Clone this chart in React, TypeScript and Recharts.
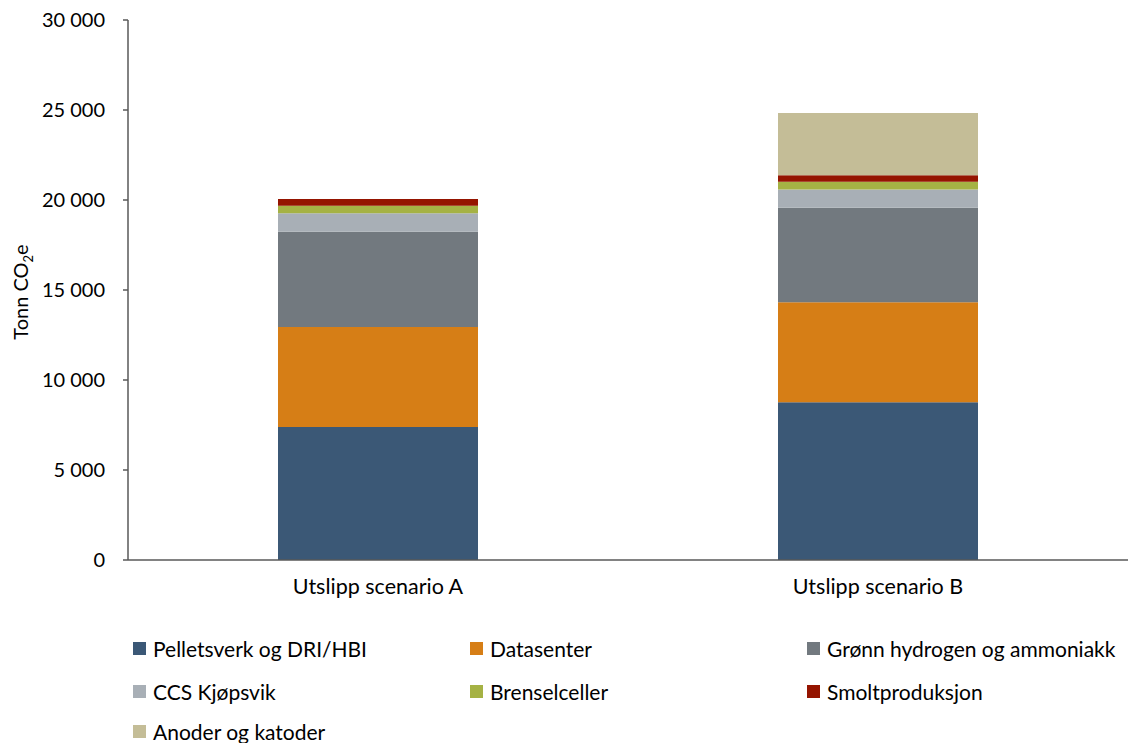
import {
  BarChart,
  Bar,
  XAxis,
  YAxis,
  Legend,
} from "recharts";

const CATEGORIES = ["Utslipp scenario A", "Utslipp scenario B"];

const PELLETS = [7390, 8760];
const DATASENTER = [5555, 5555];
const GRONN = [5295, 5255];
const CCS = [1020, 1020];
const BRENSEL = [425, 425];
const SMOLT = [370, 355];
const ANODER = [0, 3460];

const Y_TICKS = [0, 5000, 10000, 15000, 20000, 25000, 30000];

const SERIES = [
  { key: "pellets", name: "Pelletsverk og DRI/HBI", color: "#3B5876", values: PELLETS },
  { key: "data", name: "Datasenter", color: "#D67E16", values: DATASENTER },
  { key: "gronn", name: "Grønn hydrogen og ammoniakk", color: "#72797F", values: GRONN },
  { key: "ccs", name: "CCS Kjøpsvik", color: "#A8AFB6", values: CCS },
  { key: "brensel", name: "Brenselceller", color: "#A5B244", values: BRENSEL },
  { key: "smolt", name: "Smoltproduksjon", color: "#951400", values: SMOLT },
  { key: "anoder", name: "Anoder og katoder", color: "#C4BD97", values: ANODER },
];

const data = CATEGORIES.map((cat, i) => {
  const row: Record<string, any> = { name: cat };
  SERIES.forEach((s) => (row[s.key] = s.values[i]));
  return row;
});

const FONT = "Lato, 'Noto Sans', sans-serif";
const AXIS = "#595959";

// thousands with a space, Norwegian style
const fmt = (v: number) =>
  v >= 1000 ? `${Math.floor(v / 1000)} ${String(v % 1000).padStart(3, "0")}` : String(v);

const LegendBox = () => {
  const cols = [133, 470, 807];
  const rows = [28, 71, 111];
  return (
    <div style={{ position: "relative", width: 1138, height: 123, fontFamily: FONT, fontSize: 21, color: "#000" }}>
      {SERIES.map((s, i) => (
        <div
          key={s.key}
          style={{
            position: "absolute",
            left: cols[i % 3],
            top: rows[Math.floor(i / 3)] - 14,
            height: 28,
            display: "flex",
            alignItems: "center",
            whiteSpace: "nowrap",
          }}
        >
          <span style={{ width: 13, height: 13, background: s.color, marginRight: 7, display: "inline-block" }} />
          <span>{s.name}</span>
        </div>
      ))}
    </div>
  );
};

const YLabel = () => (
  <text
    x={0}
    y={0}
    transform="translate(28, 292) rotate(-90)"
    textAnchor="middle"
    fontFamily={FONT}
    fontSize={20}
    fill="#000"
  >
    Tonn CO
    <tspan fontSize={13} dy={5}>2</tspan>
    <tspan dy={-5}>e</tspan>
  </text>
);

export default function App() {
  return (
    <div style={{ position: "absolute", left: 0, top: 0, width: 1138, height: 743, background: "#fff" }}>
      <BarChart
        width={1138}
        height={743}
        data={data}
        margin={{ top: 20, right: 10, bottom: 0, left: 0 }}
        barCategoryGap="30%"
      >
        <XAxis
          dataKey="name"
          height={60}
          axisLine={{ stroke: AXIS, strokeWidth: 1.5 }}
          tickLine={false}
          tickSize={6}
          tickMargin={13}
          tick={{ fill: "#000", fontSize: 21.5, fontFamily: FONT }}
        />
        <YAxis
          width={128}
          domain={[0, 30000]}
          ticks={Y_TICKS}
          tickFormatter={fmt}
          axisLine={{ stroke: AXIS, strokeWidth: 1.5 }}
          tickLine={{ stroke: AXIS, strokeWidth: 1.5 }}
          tickSize={5}
          tickMargin={18}
          tick={{ fill: "#000", fontSize: 20, fontFamily: FONT }}
          label={<YLabel />}
        />
        {SERIES.map((s) => (
          <Bar
            key={s.key}
            dataKey={s.key}
            name={s.name}
            stackId="a"
            fill={s.color}
            isAnimationActive={false}
          />
        ))}
        <Legend verticalAlign="bottom" height={123} content={() => <LegendBox />} />
      </BarChart>
    </div>
  );
}
